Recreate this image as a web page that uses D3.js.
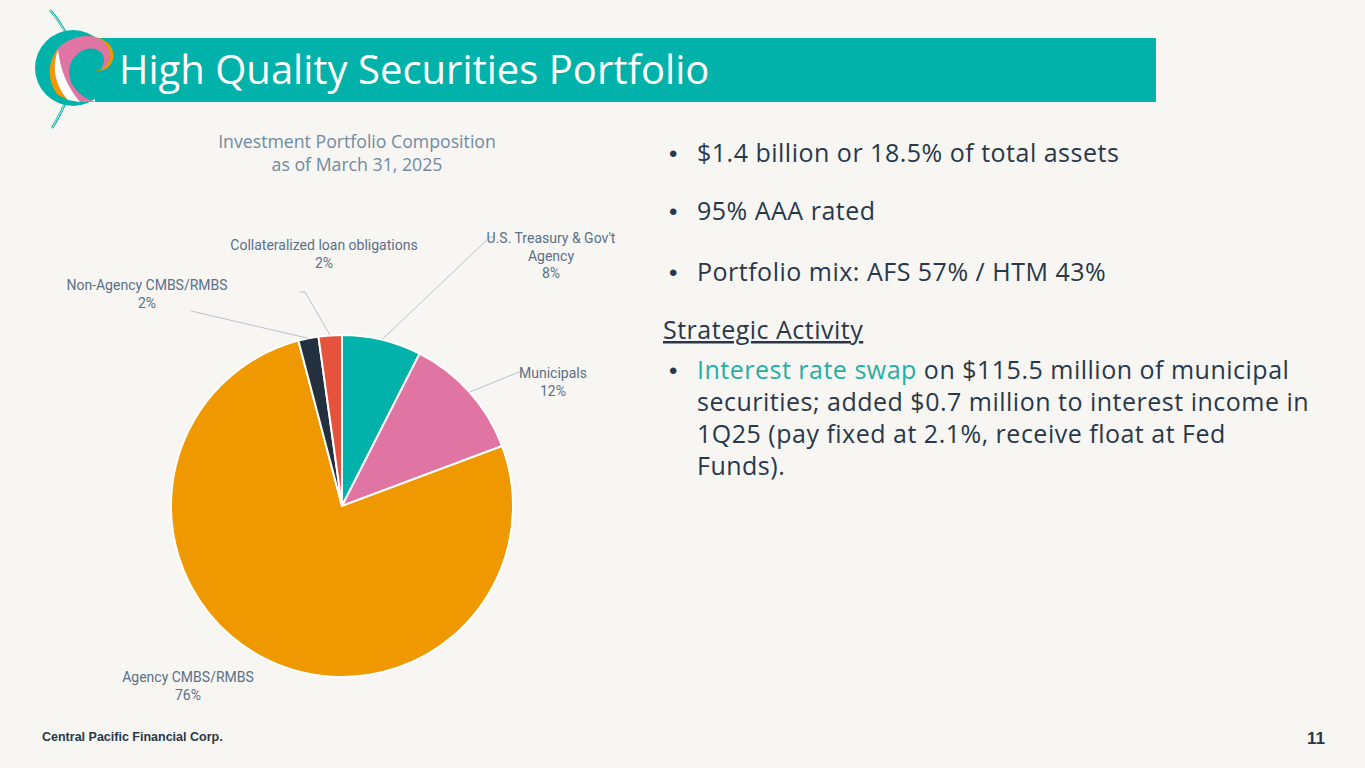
<!DOCTYPE html>
<html><head><meta charset="utf-8">
<script src="https://cdn.jsdelivr.net/npm/d3@7"></script>
<style>
html,body{margin:0;padding:0;background:#f8f6f3;}
svg{display:block;}
</style></head>
<body>
<svg id="c" width="1365" height="768"></svg>
<script>
// ---- data ----
const categories = ["U.S. Treasury & Gov't Agency","Municipals","Agency CMBS/RMBS","Non-Agency CMBS/RMBS","Collateralized loan obligations"];
const values = [7.5, 11.8, 76.6, 1.9, 2.2];
const pctLabels = ["8%","12%","76%","2%","2%"];
const colors = ["#00b2a9","#e074a2","#f09800","#22303f","#e5533d"];
const labelLines = [["U.S. Treasury & Gov't","Agency"],["Municipals"],["Agency CMBS/RMBS"],["Non-Agency CMBS/RMBS"],["Collateralized loan obligations"]];
const bullets = ["$1.4 billion or 18.5% of total assets","95% AAA rated","Portfolio mix: AFS 57% / HTM 43%"];

const svg = d3.select("#c");
const W=1365,H=768;
svg.append("rect").attr("width",W).attr("height",H).attr("fill","#f8f6f3");

// title bar
svg.append("rect").attr("x",95).attr("y",38).attr("width",1061).attr("height",64).attr("fill","#00b2a9");
svg.append("text").attr("x",119).attr("y",84).attr("fill","#fff")
  .attr("font-family","Open Sans, Liberation Sans, sans-serif").attr("font-size",40)
  .text("High Quality Securities Portfolio");

// logo
const lg = svg.append("g");
lg.append("path").attr("d","M50,10 Q95,60 52,128").attr("fill","none").attr("stroke","#00b2a9").attr("stroke-width",2.5);
lg.append("path").attr("d","M50,10 Q95,60 52,128").attr("fill","none").attr("stroke","#f8f6f3").attr("stroke-width",0.8);
lg.append("circle").attr("cx",73).attr("cy",68).attr("r",38).attr("fill","#00b2a9");
lg.append("path").attr("d","M80,102 C40,95 40,40 85,36 C110,34 118,62 100,70 C112,55 95,42 80,52 C62,64 66,92 95,102 Z").attr("fill","#e074a2");
lg.append("path").attr("d","M100,70 C118,62 110,34 85,36 C105,35 118,48 112,62 C108,70 100,72 95,70 Z").attr("fill","#f09800");
lg.append("path").attr("d","M58,95 C46,80 48,60 58,50 C52,66 54,84 68,100 Z").attr("fill","#f09800");
lg.append("path").attr("d","M68,100 C54,84 52,66 58,50 C60,62 62,80 80,102 Z").attr("fill","#fff");

// chart title
const ct = svg.append("text").attr("text-anchor","middle").attr("fill","#6f8aa3")
  .attr("font-family","Open Sans, Liberation Sans, sans-serif").attr("font-size",17.7);
ct.append("tspan").attr("x",357).attr("y",148).text("Investment Portfolio Composition");
ct.append("tspan").attr("x",357).attr("y",171).text("as of March 31, 2025");

// pie
const cx=342, cy=506, R=171;
const pie = d3.pie().sort(null).value(d=>d);
const arc = d3.arc().innerRadius(0).outerRadius(R);
const arcs = pie(values);
const g = svg.append("g").attr("transform",`translate(${cx},${cy})`);
g.selectAll("path").data(arcs).join("path").attr("d",arc)
  .attr("fill",(d,i)=>colors[i]).attr("stroke","#fff").attr("stroke-width",2);

// labels (first-line baseline)
const labelPos = [[551,243],[553,378],[188,682],[147,290],[324,250]];
const leader = [
  {i:0, pts:[[383,338],[490,237],[494,237]]},
  {i:1, pts:[[499,402],[519,372],[521,372]]},
  {i:3, pts:[[300,340],[191,311]]},
  {i:4, pts:[[327,336],[305,292],[300,292]]}
];
leader.forEach(l=>{
  const a = (arcs[l.i].startAngle+arcs[l.i].endAngle)/2;
  const sx = cx + Math.sin(a)*R, sy = cy - Math.cos(a)*R;
  const pts = [[sx,sy]].concat(l.pts.slice(1));
  svg.append("path").attr("d",d3.line()(pts)).attr("fill","none").attr("stroke","#b8c2cc").attr("stroke-width",1);
});
categories.forEach((c,i)=>{
  const t = svg.append("text").attr("text-anchor","middle").attr("fill","#5a7088")
    .attr("font-family","Roboto, sans-serif").attr("font-size",14);
  const lines = labelLines[i].concat([pctLabels[i]]);
  lines.forEach((s,k)=>t.append("tspan").attr("x",labelPos[i][0]).attr("y",labelPos[i][1]+k*17.5).text(s));
});

// bullets
const bf = "Open Sans, Liberation Sans, sans-serif";
const fs = 25, ls = 0.5;
const bc = "#28384a";
const by = [162,220,281];
function bullet(y){
  svg.append("text").attr("x",669).attr("y",y).attr("fill",bc).attr("font-family","Liberation Sans, Arial, sans-serif").attr("font-size",24).text("•");
}
bullets.forEach((b,i)=>{
  bullet(by[i]);
  svg.append("text").attr("x",697).attr("y",by[i]).attr("fill",bc).attr("font-family",bf).attr("font-size",fs).attr("letter-spacing",ls).text(b);
});
svg.append("text").attr("x",663).attr("y",339).attr("fill",bc).attr("font-family",bf).attr("font-size",fs).attr("letter-spacing",ls)
  .attr("text-decoration","underline").text("Strategic Activity");
bullet(379);
const para = svg.append("text").attr("fill",bc).attr("font-family",bf).attr("font-size",fs).attr("letter-spacing",ls);
const l1 = para.append("tspan").attr("x",697).attr("y",379);
l1.append("tspan").attr("fill","#1fb0a6").text("Interest rate swap");
l1.append("tspan").text(" on $115.5 million of municipal");
para.append("tspan").attr("x",697).attr("y",411).text("securities; added $0.7 million to interest income in");
para.append("tspan").attr("x",697).attr("y",443).text("1Q25 (pay fixed at 2.1%, receive float at Fed");
para.append("tspan").attr("x",697).attr("y",475).text("Funds).");

// footer
svg.append("text").attr("x",42).attr("y",741).attr("fill","#28384a").attr("font-family","Liberation Sans Narrow, Arial, sans-serif")
  .attr("font-weight","bold").attr("font-size",12.5).text("Central Pacific Financial Corp.");
svg.append("text").attr("x",1325).attr("y",744).attr("text-anchor","end").attr("fill","#28384a").attr("font-family","Liberation Sans, Arial, sans-serif")
  .attr("font-weight","bold").attr("font-size",17).text("11");
</script>
</body></html>
